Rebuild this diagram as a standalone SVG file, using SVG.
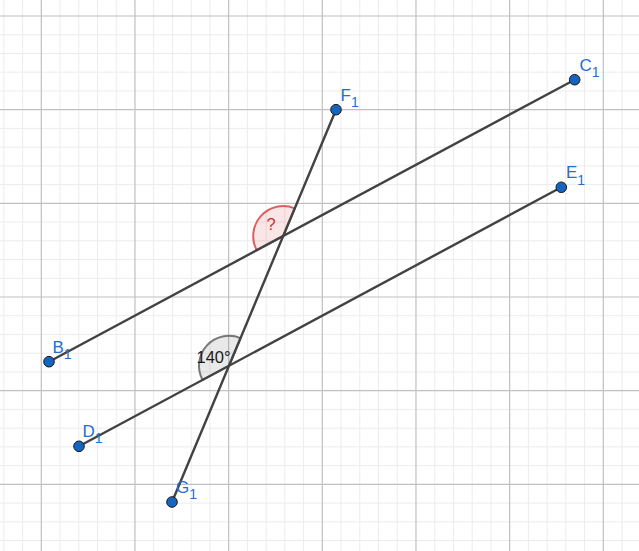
<svg xmlns="http://www.w3.org/2000/svg" width="639" height="551" viewBox="0 0 639 551">
<style>
.minor{stroke:#ececec;stroke-width:1;fill:none}
.major{stroke:#c0c0c0;stroke-width:1.2;fill:none}
.seg{stroke:#424242;stroke-width:2.4;fill:none;stroke-linecap:round}
.pt{fill:#1565c0;stroke:#1a1a1a;stroke-width:1}
.lbl{font-family:"Liberation Sans",Arial,sans-serif;font-size:17px;fill:#1e6fd0}
.sub{font-size:14px}
.ang-red{fill:#d32f2f;fill-opacity:0.12;stroke:#d32f2f;stroke-opacity:0.75;stroke-width:2}
.ang-gray{fill:#616161;fill-opacity:0.14;stroke:#616161;stroke-opacity:0.85;stroke-width:2}
.albl{font-family:"Liberation Sans",Arial,sans-serif;font-size:16.5px}
</style>
<rect width="639" height="551" fill="#ffffff"/>
<g id="grid">
<path class="minor" d="M3.83 0V551M22.57 0V551M60.03 0V551M78.77 0V551M97.5 0V551M116.24 0V551M153.7 0V551M172.44 0V551M191.17 0V551M209.91 0V551M247.37 0V551M266.11 0V551M284.84 0V551M303.58 0V551M341.04 0V551M359.78 0V551M378.51 0V551M397.25 0V551M434.71 0V551M453.45 0V551M472.18 0V551M490.92 0V551M528.38 0V551M547.12 0V551M565.85 0V551M584.59 0V551M622.05 0V551"/>
<path class="minor" d="M0 34.73H639M0 53.47H639M0 72.2H639M0 90.94H639M0 128.4H639M0 147.14H639M0 165.87H639M0 184.61H639M0 222.07H639M0 240.81H639M0 259.54H639M0 278.28H639M0 315.74H639M0 334.48H639M0 353.21H639M0 371.95H639M0 409.41H639M0 428.15H639M0 446.88H639M0 465.62H639M0 503.08H639M0 521.82H639M0 540.55H639"/>
<path class="major" d="M41.3 0V551M134.97 0V551M228.64 0V551M322.3 0V551M415.97 0V551M509.64 0V551M603.3 0V551"/>
<path class="major" d="M0 16H639M0 109.67H639M0 203.34H639M0 297.01H639M0 390.68H639M0 484.35H639"/>
</g>
<g id="angle-upper">
<path class="ang-red" d="M283.2 236.1L294.76 208.42A30 30 0 0 0 256.77 250.28Z"/>
<text class="albl" x="266.5" y="230" fill="#d32f2f">?</text>
</g>
<g id="angle-lower">
<path class="ang-gray" d="M229 365.8L240.56 338.12A30 30 0 0 0 202.56 380Z"/>
<text class="albl" x="196.5" y="363" fill="#1a1a1a">140°</text>
</g>
<g id="connectors">
<line class="seg" x1="49" y1="361.7" x2="574.7" y2="79.7"/>
<line class="seg" x1="79" y1="446.3" x2="561.3" y2="187.3"/>
<line class="seg" x1="336" y1="109.7" x2="172" y2="502"/>
</g>
<g id="F1"><circle class="pt" cx="336" cy="109.7" r="5.3"/><text class="lbl" x="340.5" y="100.5">F<tspan class="sub" dy="6.5">1</tspan></text></g>
<g id="C1"><circle class="pt" cx="574.7" cy="79.7" r="5.3"/><text class="lbl" x="579.5" y="70.5">C<tspan class="sub" dy="6.5">1</tspan></text></g>
<g id="E1"><circle class="pt" cx="561.3" cy="187.3" r="5.3"/><text class="lbl" x="566" y="178">E<tspan class="sub" dy="6.5">1</tspan></text></g>
<g id="B1"><circle class="pt" cx="49" cy="361.7" r="5.3"/><text class="lbl" x="52.5" y="352.5">B<tspan class="sub" dy="6.5">1</tspan></text></g>
<g id="D1"><circle class="pt" cx="79" cy="446.3" r="5.3"/><text class="lbl" x="82.5" y="436.5">D<tspan class="sub" dy="6.5">1</tspan></text></g>
<g id="G1"><circle class="pt" cx="172" cy="502" r="5.3"/><text class="lbl" x="176" y="492.5">G<tspan class="sub" dy="6.5">1</tspan></text></g>
</svg>
